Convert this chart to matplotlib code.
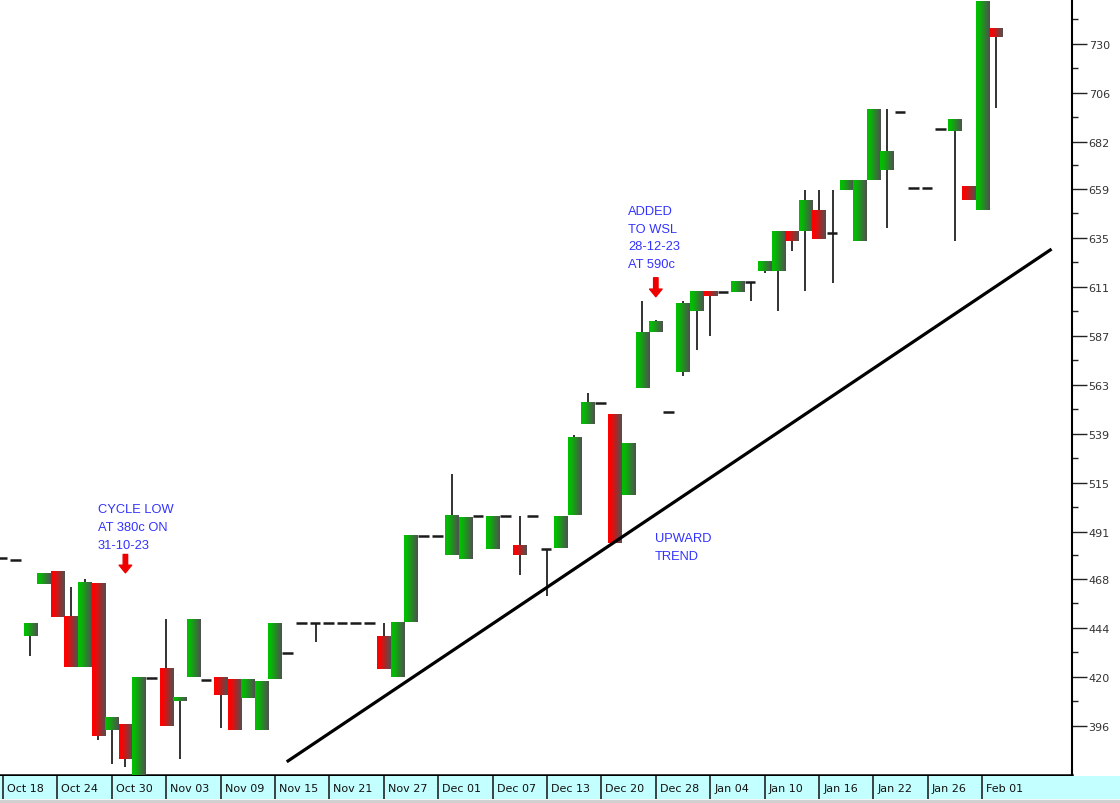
import numpy as np
import matplotlib
matplotlib.use("Agg")
import matplotlib.pyplot as plt
from matplotlib.colors import LinearSegmentedColormap
from matplotlib.patches import Rectangle

# daily OHLC in cents, one entry per trading day starting 18 Oct 2023
opens = [478.5, 477.5, 439.9, 465.5, 471.7, 449.6, 425.1, 465.5, 394.0, 396.8,
         366.0, 419.5, 423.9, 408.3, 419.8, 418.7, 419.7, 418.9, 409.9, 394.0,
         419.2, 431.5, 446.2, 446.2, 446.2, 446.2, 446.2, 446.2, 439.9, 419.8,
         446.8, 489.2, 489.2, 479.6, 478.0, 498.6, 482.9, 498.8, 484.2, 498.8,
         482.9, 483.4, 499.2, 543.8, 554.1, 548.3, 509.1, 561.4, 588.8, 549.8,
         569.2, 599.0, 608.6, 608.6, 608.6, 613.4, 618.7, 618.7, 638.0, 638.3,
         648.5, 637.3, 658.7, 633.4, 663.6, 668.5, 696.9, 659.5, 659.5, 688.3,
         687.3, 660.3, 648.9, 737.8]
highs = [478.5, 477.5, 445.8, 470.4, 471.7, 464.2, 468.2, 465.5, 399.9, 396.8,
         419.5, 419.5, 448.4, 409.9, 447.9, 418.7, 419.7, 418.9, 418.9, 417.7,
         446.5, 431.5, 446.2, 446.2, 446.2, 446.2, 446.2, 446.2, 446.2, 446.3,
         489.2, 489.2, 489.2, 519.4, 498.1, 498.6, 498.8, 498.8, 498.8, 498.8,
         482.9, 498.8, 538.6, 559.3, 554.1, 548.3, 534.1, 603.9, 594.8, 549.8,
         603.9, 608.6, 608.6, 608.6, 613.7, 613.4, 623.3, 638.0, 638.0, 658.5,
         658.5, 658.5, 663.2, 663.2, 698.2, 698.2, 696.9, 659.5, 659.5, 688.3,
         693.1, 660.3, 751.0, 737.8]
lows = [478.5, 477.5, 430.1, 465.5, 449.6, 425.1, 425.1, 389.1, 377.4, 376.0,
        366.0, 419.5, 395.9, 379.8, 419.8, 418.7, 395.2, 394.0, 409.9, 394.0,
        419.2, 431.5, 446.2, 437.1, 446.2, 446.2, 446.2, 446.2, 423.9, 419.8,
        446.8, 489.2, 489.2, 479.6, 478.0, 498.6, 482.9, 498.8, 469.9, 498.8,
        459.8, 483.4, 499.2, 543.8, 554.1, 485.6, 509.1, 561.4, 588.8, 549.8,
        567.2, 580.1, 587.0, 608.6, 608.6, 604.1, 617.6, 599.2, 628.4, 608.9,
        634.7, 612.8, 658.7, 633.4, 663.6, 639.7, 696.9, 659.5, 659.5, 688.3,
        633.5, 653.7, 648.9, 698.4]
closes = [478.5, 477.5, 445.8, 470.4, 449.6, 425.1, 466.7, 391.0, 399.9, 379.7,
          419.5, 419.5, 395.9, 409.9, 447.9, 418.7, 411.2, 394.0, 418.9, 417.7,
          446.5, 431.5, 446.2, 446.2, 446.2, 446.2, 446.2, 446.2, 423.9, 446.3,
          489.2, 489.2, 489.2, 498.8, 498.1, 498.6, 498.8, 498.8, 479.6, 498.8,
          482.9, 498.8, 537.3, 554.1, 554.1, 485.6, 534.1, 588.8, 593.7, 549.8,
          602.6, 608.6, 606.6, 608.6, 613.7, 613.4, 623.3, 638.0, 633.4, 653.4,
          634.7, 637.3, 663.2, 663.2, 698.2, 677.8, 696.9, 659.5, 659.5, 688.3,
          693.1, 653.7, 751.0, 733.6]

date_labels = ["Oct 18", "Oct 24", "Oct 30", "Nov 03", "Nov 09", "Nov 15", "Nov 21",
               "Nov 27", "Dec 01", "Dec 07", "Dec 13", "Dec 20", "Dec 28", "Jan 04",
               "Jan 10", "Jan 16", "Jan 22", "Jan 26", "Feb 01"]
date_index = [0, 4, 8, 12, 16, 20, 24, 28, 32, 36, 40, 44, 48, 52, 56, 60, 64, 68, 72]

y_ticks = [396, 420, 444, 468, 491, 515, 539, 563, 587, 611, 635, 659, 682, 706, 730]

# hand drawn trend line (day index, price)
trend_x = [20.96, 77.0]
trend_y = [378.9, 629.1]

text_blue = "#3333ff"
green_cmap = LinearSegmentedColormap.from_list("g", [(0, "#00c000"), (0.2, "#06b806"), (1, "#505050")])
red_cmap = LinearSegmentedColormap.from_list("r", [(0, "#ff0000"), (0.2, "#f80404"), (1, "#505050")])

fig = plt.figure(figsize=(11.2, 8.04), dpi=100)
ax = fig.add_axes([0, 28 / 804, 1072 / 1120, 776 / 804])

grad = np.linspace(0, 1, 32).reshape(1, -1)
body_w = 0.97
for i, (o, h, l, c) in enumerate(zip(opens, highs, lows, closes)):
    if h > max(o, c) or l < min(o, c):
        ax.vlines(i, l, h, color="#222222", lw=1.3, zorder=2)
    if o == c:
        ax.hlines(o, i - 0.45, i + 0.32, color="#1a1a1a", lw=1.8, zorder=3)
        continue
    cmap = green_cmap if c > o else red_cmap
    ax.imshow(grad, cmap=cmap, extent=(i - body_w / 2, i + body_w / 2, min(o, c), max(o, c)),
              aspect="auto", interpolation="bilinear", zorder=3)

ax.plot(trend_x, trend_y, color="black", lw=2.3, zorder=4)

# annotations
arrow_style = "simple,head_length=0.55,head_width=0.9,tail_width=0.32"
txt = dict(color=text_blue, fontsize=9.3, family="Liberation Sans", ha="left", va="top",
           linespacing=1.62)
ax.text(6.99, 505.0, "CYCLE LOW\nAT 380c ON\n31-10-23", **txt)
ax.annotate("", xy=(9, 471.0), xytext=(9, 480.0),
            arrowprops=dict(arrowstyle=arrow_style, color="#ee0000", mutation_scale=10,
                            shrinkA=0, shrinkB=0))
ax.text(45.96, 651.0, "ADDED\nTO WSL\n28-12-23\nAT 590c", **txt)
ax.annotate("", xy=(48, 606.2), xytext=(48, 615.5),
            arrowprops=dict(arrowstyle=arrow_style, color="#ee0000", mutation_scale=10,
                            shrinkA=0, shrinkB=0))
ax.text(47.94, 491.0, "UPWARD\nTREND", **txt)

ax.set_xlim(-0.22, 78.6)
ax.set_ylim(372, 752)
ax.set_xticks([])
ax.yaxis.tick_right()
ax.set_yticks(y_ticks)
ax.set_yticklabels([str(v) for v in y_ticks])
ax.set_yticks([(a + b) / 2 for a, b in zip(y_ticks[:-1], y_ticks[1:])] + [y_ticks[-1] + 12], minor=True)
ax.tick_params(axis="y", which="major", length=10.5, width=1, pad=1.5, labelsize=8,
               labelcolor="#333333", color="#222222")
ax.tick_params(axis="y", which="minor", length=4.5, width=1, color="#222222")
for s in ["left", "top"]:
    ax.spines[s].set_visible(False)
ax.spines["right"].set_linewidth(1.5)
ax.spines["bottom"].set_linewidth(1.8)

# date strip along the bottom
x0, x1 = ax.get_xlim()
strip = fig.add_axes([0, 4 / 804, 1, 23 / 804], facecolor="#c4ffff")
strip.set_xlim(x0, x0 + (x1 - x0) * 1120 / 1072)
strip.set_ylim(0, 1)
strip.set_xticks([])
strip.set_yticks([])
for s in strip.spines.values():
    s.set_visible(False)
strip.vlines(date_index, 0, 1, color="#222222", lw=1.2)
for idx, lab in zip(date_index, date_labels):
    strip.text(idx + 0.3, 0.48, lab, fontsize=8, ha="left", va="center", color="#111111")

fig.add_artist(Rectangle((0, 0), 1, 3 / 804, transform=fig.transFigure, color="#d0d0d0"))

fig.savefig("out.png", dpi=100)
